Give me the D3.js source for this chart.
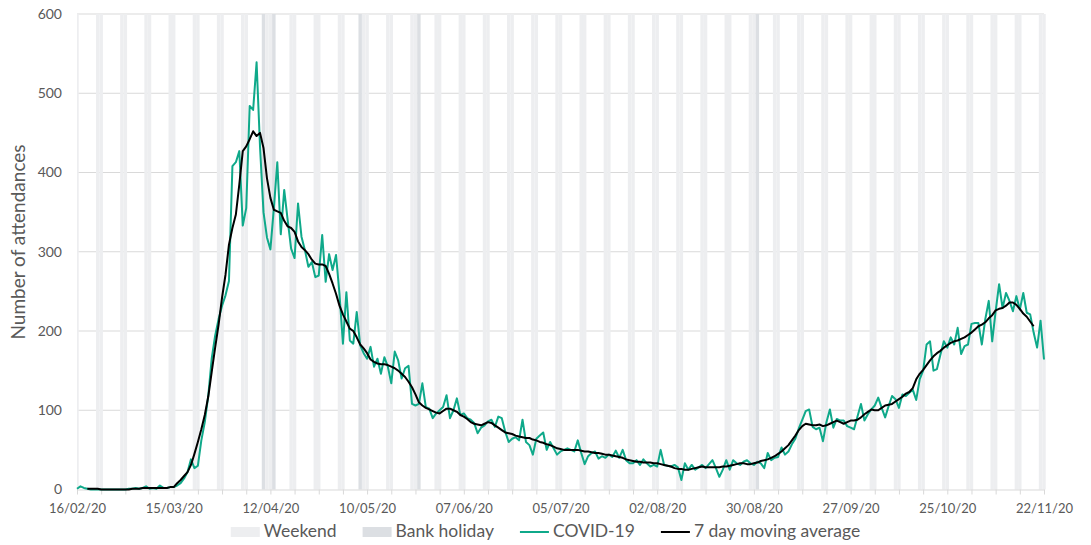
<!DOCTYPE html>
<html>
<head>
<meta charset="utf-8">
<script src="https://cdn.jsdelivr.net/npm/d3@7"></script>
<style>
  body { margin: 0; background: #fff; }
  text { font-family: Lato, "Open Sans", sans-serif; fill: #595959; }
</style>
</head>
<body>
<div id="chart"></div>
<script>
// Chart size
const width = 1091;
const height = 545;
const margin = { top: 14, right: 47, bottom: 55.5, left: 77 };

// Data: daily attendances from 16/02/20
const startDate = "2020-02-16";
const covid = [
  1, 4, 2, 1, 0, 0, 0, 0, 0, 0,
  0, 0, 0, 0, 0, 1, 1, 2, 1, 2,
  4, 1, 2, 1, 5, 2, 2, 3, 3, 5,
  8, 14, 22, 38, 27, 30, 62, 85, 118, 165,
  194, 215, 232, 245, 263, 408, 413, 427, 333, 355,
  484, 479, 539, 432, 350, 318, 303, 355, 413, 322,
  378, 340, 304, 292, 361, 319, 302, 281, 287, 268,
  270, 321, 262, 297, 277, 296, 247, 184, 249, 188,
  184, 224, 182, 172, 165, 180, 155, 165, 146, 167,
  155, 134, 174, 163, 140, 153, 156, 108, 106, 108,
  134, 104, 102, 90, 96, 100, 104, 119, 90, 100,
  115, 94, 96, 90, 88, 84, 71, 78, 81, 86,
  88, 79, 92, 90, 73, 60, 64, 66, 62, 88,
  60, 56, 44, 64, 68, 72, 50, 60, 52, 44,
  48, 50, 52, 50, 48, 62, 46, 32, 42, 46,
  48, 39, 42, 40, 44, 41, 49, 40, 50, 37,
  33, 33, 37, 31, 38, 33, 29, 31, 29, 50,
  31, 30, 29, 31, 28, 12, 33, 25, 31, 25,
  28, 31, 27, 32, 37, 27, 16, 25, 37, 25,
  37, 33, 31, 35, 37, 33, 31, 35, 33, 27,
  46, 37, 40, 41, 53, 44, 48, 57, 64, 77,
  88, 99, 101, 79, 76, 78, 61, 85, 101, 78,
  89, 87, 87, 80, 78, 76, 92, 108, 87, 95,
  101, 106, 116, 103, 91, 105, 118, 114, 103, 120,
  118, 122, 126, 113, 139, 150, 183, 187, 150, 152,
  170, 187, 179, 192, 183, 204, 171, 181, 183, 209,
  210, 210, 183, 215, 238, 187, 225, 259, 229, 248,
  238, 225, 244, 227, 248, 223, 221, 198, 179, 213,
  164
];

// 7 day moving average, first value is on 19/02/20
const maStart = "2020-02-19";
const movingAvg = [
  1, 1, 1, 1, 0, 0, 0,
  0, 0, 0, 0, 0, 0, 1, 1, 1, 2,
  2, 2, 2, 2, 2, 2, 2, 3, 3, 8,
  12, 17, 22, 31, 45, 60, 76, 94, 117, 148,
  179, 208, 242, 271, 309, 330, 347, 385, 427, 433,
  442, 452, 446, 450, 431, 393, 368, 353, 351, 349,
  339, 332, 330, 325, 313, 306, 302, 297, 290, 285,
  284, 284, 282, 272, 260, 247, 232, 221, 212, 203,
  200, 192, 183, 178, 172, 164, 161, 159, 158, 158,
  157, 155, 153, 150, 146, 142, 136, 129, 120, 110,
  106, 103, 101, 99, 97, 96, 99, 102, 102, 100,
  98, 94, 92, 89, 85, 83, 82, 81, 83, 85,
  84, 81, 78, 75, 72, 71, 70, 68, 67, 66,
  65, 65, 63, 62, 60, 59, 57, 56, 54, 52,
  51, 50, 50, 50, 50, 50, 49, 48, 48, 47,
  46, 46, 45, 44, 44, 43, 42, 41, 40, 38,
  37, 36, 35, 35, 34, 34, 34, 33, 33, 32,
  31, 30, 29, 27, 26, 26, 25, 25, 26, 27,
  28, 29, 28, 28, 28, 28, 28, 29, 29, 30,
  31, 32, 33, 33, 32, 32, 33, 34, 36, 37,
  38, 40, 42, 45, 48, 52, 56, 62, 68, 75,
  80, 83, 82, 81, 81, 82, 80, 81, 83, 85,
  87, 85, 83, 85, 87, 87, 88, 91, 95, 98,
  101, 100, 100, 103, 106, 107, 108, 111, 114, 117,
  121, 123, 128, 139, 146, 151, 157, 163, 168, 172,
  175, 179, 182, 185, 187, 188, 190, 192, 195, 198,
  202, 206, 208, 211, 216, 220, 226, 228, 229, 232,
  236, 236, 233, 228, 222, 218, 212, 206
];

const bankHolidays = ["2020-04-10", "2020-04-13", "2020-05-08", "2020-05-25", "2020-08-31"];
const yTicks = [0, 100, 200, 300, 400, 500, 600];
const legendItems = [
  { label: "Weekend", type: "box", color: "#edeef0" },
  { label: "Bank holiday", type: "box", color: "#dcdfe3" },
  { label: "COVID-19", type: "line", color: "#0fa98a" },
  { label: "7 day moving average", type: "line", color: "#000000" }
];

const parse = d3.utcParse("%Y-%m-%d");
const day0 = parse(startDate);
const covidData = covid.map((v, i) => ({ date: d3.utcDay.offset(day0, i), value: v }));
const maData = movingAvg.map((v, i) => ({ date: d3.utcDay.offset(parse(maStart), i), value: v }));
const lastDate = covidData[covidData.length - 1].date;
const holidaySet = new Set(bankHolidays);
const fmtKey = d3.utcFormat("%Y-%m-%d");

const svg = d3.select("#chart")
    .append("svg")
    .attr("width", width)
    .attr("height", height);

// Scales
const xScale = d3.scaleUtc()
    .domain([day0, lastDate])
    .range([margin.left, width - margin.right]);

const yScale = d3.scaleLinear()
    .domain([0, 600])
    .range([height - margin.bottom, margin.top]);

const dayW = xScale(d3.utcDay.offset(day0, 1)) - xScale(day0);

// Gridlines
svg.append("g")
    .selectAll("line")
    .data(yTicks.filter((t) => t > 0))
    .enter()
    .append("line")
    .attr("x1", margin.left)
    .attr("x2", width - margin.right)
    .attr("y1", (d) => yScale(d))
    .attr("y2", (d) => yScale(d))
    .attr("stroke", "#d9d9d9")
    .attr("stroke-width", 1);

// Weekend and bank holiday bands
const bandDays = covidData.filter((d) => {
    const wd = d.date.getUTCDay();
    return wd === 0 || wd === 6 || holidaySet.has(fmtKey(d.date));
});

svg.append("g")
    .selectAll("rect")
    .data(bandDays)
    .enter()
    .append("rect")
    .attr("x", (d) => Math.max(margin.left, xScale(d.date) - dayW / 2))
    .attr("width", (d) => xScale(d.date) + dayW / 2 - Math.max(margin.left, xScale(d.date) - dayW / 2))
    .attr("y", yScale(600))
    .attr("height", yScale(0) - yScale(600))
    .attr("fill", (d) => holidaySet.has(fmtKey(d.date)) ? legendItems[1].color : legendItems[0].color);

// X axis: a tick every week, a label every 4 weeks
const weekTicks = d3.range(0, covid.length, 7).map((i) => d3.utcDay.offset(day0, i));
const xAxis = d3.axisBottom(xScale)
    .tickValues(weekTicks)
    .tickSize(5)
    .tickSizeOuter(0)
    .tickFormat((d) => (d3.utcDay.count(day0, d) % 28 === 0 ? d3.utcFormat("%d/%m/%y")(d) : ""));

const gx = svg.append("g")
    .attr("transform", `translate(0, ${yScale(0)})`)
    .call(xAxis);
gx.select(".domain").attr("stroke", "#d9d9d9");
gx.selectAll(".tick line").attr("stroke", "#d9d9d9");
gx.selectAll(".tick text")
    .attr("y", 14)
    .style("font-size", "13px")
    .style("fill", "#595959");

// Y axis labels
svg.append("g")
    .selectAll("text")
    .data(yTicks)
    .enter()
    .append("text")
    .attr("x", 62)
    .attr("y", (d) => yScale(d))
    .attr("dy", "0.35em")
    .attr("text-anchor", "end")
    .style("font-size", "14px")
    .text((d) => d);

// Y-axis title
svg.append("text")
    .attr("transform", "rotate(-90)")
    .attr("x", -242)
    .attr("y", 25)
    .attr("text-anchor", "middle")
    .style("font-size", "19px")
    .text("Number of attendances");

// Lines
const line = d3.line()
    .x((d) => xScale(d.date))
    .y((d) => yScale(d.value));

svg.append("path")
    .datum(covidData)
    .attr("fill", "none")
    .attr("stroke", legendItems[2].color)
    .attr("stroke-width", 2)
    .attr("stroke-linejoin", "round")
    .attr("d", line);

svg.append("path")
    .datum(maData)
    .attr("fill", "none")
    .attr("stroke", legendItems[3].color)
    .attr("stroke-width", 2)
    .attr("stroke-linejoin", "round")
    .attr("d", line);

// Legend
const legend = svg.append("g");
let lx = 0;
legendItems.forEach((item) => {
    const g = legend.append("g").attr("transform", `translate(${lx}, 0)`);
    if (item.type === "box") {
        g.append("rect").attr("x", 0).attr("y", -10).attr("width", 29).attr("height", 10).attr("fill", item.color);
    } else {
        g.append("line").attr("x1", 0).attr("x2", 29).attr("y1", -5).attr("y2", -5)
            .attr("stroke", item.color).attr("stroke-width", 2);
    }
    const t = g.append("text").attr("x", 33).attr("y", 0).style("font-size", "17.5px").text(item.label);
    lx += 33 + t.node().getComputedTextLength() + 26;
});
lx -= 26;
legend.attr("transform", `translate(${(width - lx) / 2}, 537)`);
</script>
</body>
</html>
